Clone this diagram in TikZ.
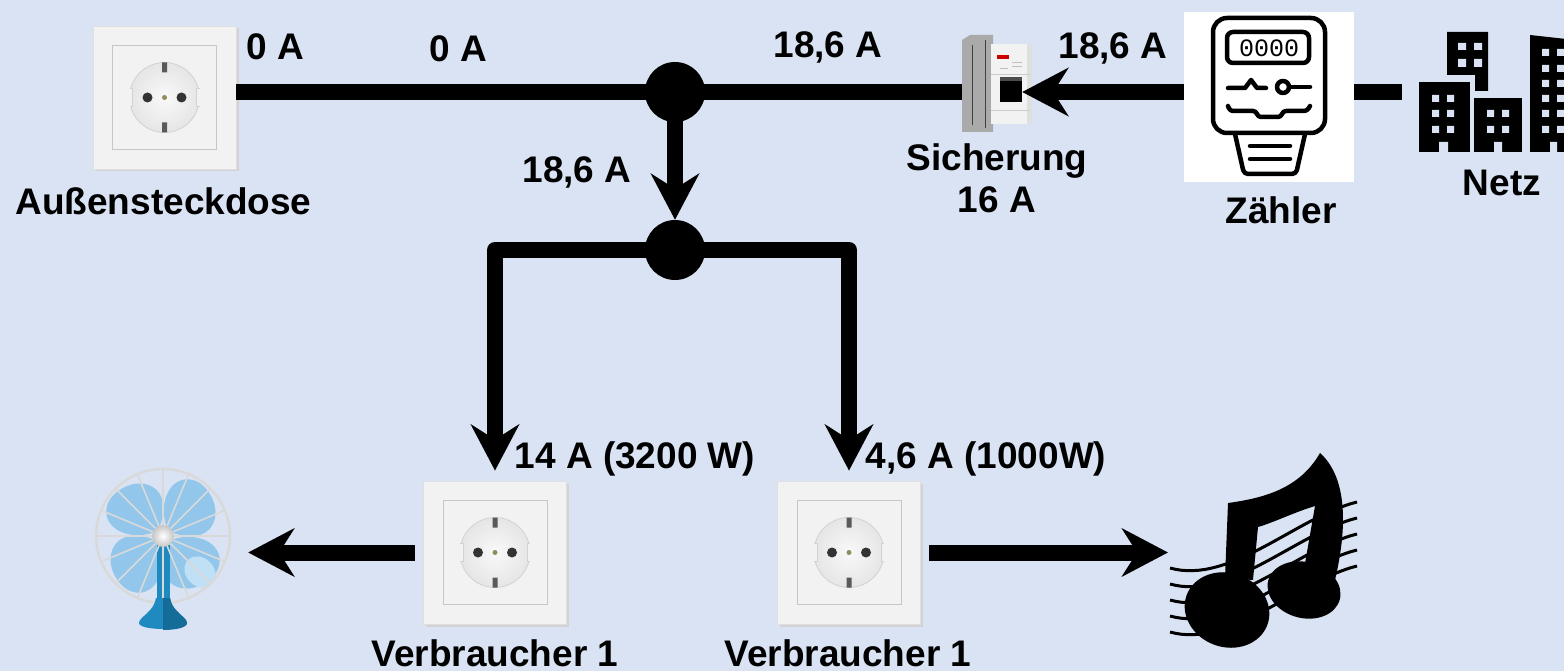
\documentclass[tikz,border=0pt]{standalone}
\usepackage{fontspec}
\setmainfont{Liberation Sans}
\newfontfamily\digitfont{Liberation Mono}
\usetikzlibrary{arrows.meta,shapes.geometric}

\definecolor{bgblue}{HTML}{DAE3F3}
\definecolor{frameface}{HTML}{F2F2F2}
\definecolor{bladeblue}{HTML}{92C7EB}
\definecolor{bladelight}{HTML}{BFE0F5}
\definecolor{standblue}{HTML}{1F8AC0}
\definecolor{standdark}{HTML}{146C99}
\definecolor{railgray}{HTML}{AAAAAA}

\tikzset{
  wire/.style={draw=black, line width=16pt, line join=round},
  flow/.style={wire, -{Stealth[length=46pt,width=48pt,inset=15pt]}},
  junction/.style={circle, fill=black, minimum size=60pt, inner sep=0pt},
  lbl/.style={font=\fontsize{37}{44}\selectfont\bfseries, anchor=base, inner sep=0pt},
  sockframe/.style={rectangle, fill=frameface, draw=gray!25, line width=0.8pt,
    minimum size=143pt, inner sep=0pt},
  icon/.style={draw=black, line width=4.5pt, line cap=round, line join=round},
  spoke/.style={draw=gray!30, line width=1.6pt},
  ghost/.style={draw=none, inner sep=0pt},
  socket/.pic={
    % drop shadow, frame, inner plate, face with contacts
    \fill[gray!35] (-69,-69) rectangle (74,74);
    \node[sockframe] (-frame) at (0,0) {};
    \draw[gray!45, line width=1pt] (-52,-52) rectangle (52,52);
    \shade[inner color=gray!5, outer color=gray!20] (0,0) circle (35);
    \draw[gray!35, line width=0.8pt] (0,0) circle (35);
    \fill[frameface] (-37,-9) rectangle (-32,9) (32,-9) rectangle (37,9);
    \draw[gray!35, line width=0.8pt] (-35,-9) -- (-32,-9) -- (-32,9) -- (-35,9)
                                    (35,-9) -- (32,-9) -- (32,9) -- (35,9);
    \fill[black!80] (-17,0) circle (5) (17,0) circle (5);
    \fill[olive!35!gray] (0,0) circle (2.5);
    \fill[gray!70!black] (-2.5,-35) rectangle (2.5,-25) (-2.5,25) rectangle (2.5,35);
  },
  % one fan blade pointing along the local x axis
  blade/.pic={
    \fill[bladeblue] (9,-4) .. controls (22,-30) and (52,-38) .. (62,-16)
      .. controls (68,-2) and (60,26) .. (38,28) .. controls (24,29) and (13,14) .. (9,4) -- cycle;
  }
}

\begin{document}
\begin{tikzpicture}[x=1pt,y=-1pt]
\fill[bgblue] (0,0) rectangle (1564,671);
\useasboundingbox (0,0) rectangle (1564,671);
\clip (0,0) rectangle (1564,671);

% ---------- sockets ----------
\pic (sockOut) at (164.5,97.5) {socket};
\pic (v1) at (495,552.5) {socket};
\pic (v2) at (849,552.5) {socket};

% ---------- junctions ----------
\node[junction] (j1) at (675,92) {};
\node[junction] (j2) at (675,250) {};

% ---------- breaker ----------
\node[ghost, minimum width=70pt, minimum height=97pt] (breaker) at (997,83.5) {};
\fill[railgray] (962,40) -- (970,35) -- (993,35) -- (993,132) -- (962,132) -- cycle;
\draw[gray!50!black, line width=0.6pt] (972,45) -- (972,125) (985,40) -- (985,128);
\fill[gray!10] (991,44) rectangle (1030,124);
\fill[gray!25] (1027,44) rectangle (1032,124);
\draw[gray!40, line width=0.6pt] (991,74) -- (1030,74) (991,110) -- (1030,110);
\fill[red!80!black] (997,55) rectangle (1009,59);
\draw[gray!50, line width=0.5pt] (1012,62) -- (1022,62) (1012,66) -- (1022,66) (1000,68) -- (1008,68);
\node[fill=black, minimum width=22pt, minimum height=25pt, inner sep=0pt] (brkSwitch) at (1011,89.5) {};
\fill[gray!60!black] (1000,77) rectangle (1022,81);

% ---------- meter ----------
\node[fill=white, minimum width=170pt, minimum height=170pt, inner sep=0pt] (meter) at (1269,97) {};
\draw[icon, rounded corners=14pt] (1213,18) rectangle (1325,133);
\draw[icon, rounded corners=6pt] (1227,32) rectangle (1309,63);
\node[font=\digitfont\fontsize{25}{25}\selectfont, inner sep=0pt] (meterDigits) at (1269,48) {0000};
\draw[icon] (1228,88) -- (1245,88) -- (1251,80) -- (1257,88) -- (1266,88);
\draw[icon] (1283,87) circle (6);
\draw[icon] (1289,87) -- (1310,87);
\draw[icon, rounded corners=3pt] (1228,106) -- (1230,111) -- (1256,111) -- (1258,117)
  -- (1281,117) -- (1283,111) -- (1307,111) -- (1310,106);
\draw[icon, rounded corners=4pt] (1235,134) -- (1244,174) -- (1296,174) -- (1305,134);
\draw[icon] (1250,146) -- (1290,146) (1250,159) -- (1290,159);

% ---------- grid (buildings) ----------
\node[ghost, minimum width=162pt, minimum height=120pt] (netzIcon) at (1483,92) {};
\fill[black] (1447,32) -- (1488,32) -- (1488,91) -- (1475,91) -- (1475,75) -- (1447,75) -- cycle;
\fill[black] (1419,82) rectangle (1470,152);
\fill[black] (1474,98) rectangle (1522,152);
\fill[black] (1530,35) -- (1566,39) -- (1566,152) -- (1530,152) -- cycle;
\fill[bgblue]
  (1458,43) rectangle (1466,50) (1474,43) rectangle (1482,50)
  (1458,59) rectangle (1466,67) (1474,59) rectangle (1482,67)
  (1432,95) rectangle (1439,102) (1447,95) rectangle (1454,102)
  (1432,110) rectangle (1439,117) (1447,110) rectangle (1454,117)
  (1432,126) rectangle (1439,133) (1447,126) rectangle (1454,133)
  (1439,142) rectangle (1448,153)
  (1487,110) rectangle (1494,117) (1502,110) rectangle (1509,117)
  (1487,126) rectangle (1494,133) (1502,126) rectangle (1509,133)
  (1494,142) rectangle (1502,153)
  (1550,142) rectangle (1557,153);
\foreach \wy in {49,65,80,95,110,126}{
  \fill[bgblue] (1542,\wy) rectangle (1549,\wy+7) (1557,\wy) rectangle (1564,\wy+7);
}

% ---------- fan ----------
\node[ghost, circle, minimum size=134pt] (fan) at (163,536) {};
\foreach \ang in {45,135,225,315}{
  \pic[rotate=\ang] at (163,536) {blade};
}
\fill[bladelight, rotate around={-45:(200,572)}] (200,572) ellipse [x radius=17, y radius=14];
\fill[standblue] (157,545) rectangle (170,600);
\foreach \a in {0,22.5,...,337.5}{
  \draw[spoke] (163,536) -- ++(\a:67);
}
\draw[gray!30, line width=2.4pt] (163,536) circle (67);
\fill[standblue] (156,598) -- (170,598) .. controls (172,612) and (187,617) .. (187,623)
  .. controls (187,631) and (139,631) .. (139,623) .. controls (139,617) and (154,612) .. (156,598) -- cycle;
\fill[standdark] (163,598) -- (170,598) .. controls (172,612) and (187,617) .. (187,623)
  .. controls (187,629) and (170,630) .. (163,630) -- cycle;
\shade[inner color=white, outer color=gray!45] (163,536) circle (11);

% ---------- music ----------
\coordinate (musicIn) at (1168,552.5);
\foreach \k in {0,...,4}{
  \draw[black, line width=3pt] (1170,568+16*\k) .. controls (1230,585+16*\k) and (1297,517+16*\k) .. (1357,502+16*\k);
}
\fill[black] (1225,578) -- (1228,503) .. controls (1265,498) and (1300,488) .. (1320,453)
  .. controls (1348,478) and (1348,530) .. (1333,588) -- (1303,575) -- (1315,506)
  .. controls (1295,512) and (1275,522) .. (1258,527) -- (1253,580) -- cycle;
\fill[black, rotate around={-20:(1227,610)}] (1227,610) ellipse [x radius=43, y radius=37];
\fill[black, rotate around={-15:(1304,590)}] (1304,590) ellipse [x radius=37, y radius=28];

% ---------- connectors ----------
\draw[wire] (sockOut-frame.east |- j1.center) -- (j1.center);
\draw[wire] (j1.center) -- (breaker.west |- j1.center);
\draw[flow] (meter.west |- j1.center) -- (brkSwitch.east |- j1.center);
\draw[wire] (meter.east |- j1.center) -- (netzIcon.west |- j1.center);
\draw[flow] (j1.center) -- (j2.north);
\draw[flow, shorten >=10pt] (j2.center) -| (v1-frame.north);
\draw[flow, shorten >=10pt] (j2.center) -| (v2-frame.north);
\draw[flow, shorten <=8pt, shorten >=18pt] (v1-frame.west) -- (fan.east |- v1-frame.west);
\draw[flow, shorten <=8pt] (v2-frame.east) -- (musicIn);

% ---------- labels ----------
\node[lbl] (lOut1) at (275,60) {0 A};
\node[lbl] (lOut2) at (458,61.5) {0 A};
\node[lbl] (lMain) at (828,58) {18,6 A};
\node[lbl] (lMeter) at (1113,59) {18,6 A};
\node[lbl] (lDown) at (577,183) {18,6 A};
\node[lbl] (lBrk1) at (997,171) {Sicherung};
\node[lbl] (lBrk2) at (997,213) {16 A};
\node[lbl] (lSock) at (163.5,215) {Außensteckdose};
\node[lbl] (lZaehler) at (1281,224) {Zähler};
\node[lbl] (lNetz) at (1502,196) {Netz};
\node[lbl] (lV1cur) at (635,468) {14 A (3200 W)};
\node[lbl] (lV2cur) at (986,468) {4,6 A (1000W)};
\node[lbl] (lV1) at (495,666) {Verbraucher 1};
\node[lbl] (lV2) at (848,666) {Verbraucher 1};
\end{tikzpicture}
\end{document}
